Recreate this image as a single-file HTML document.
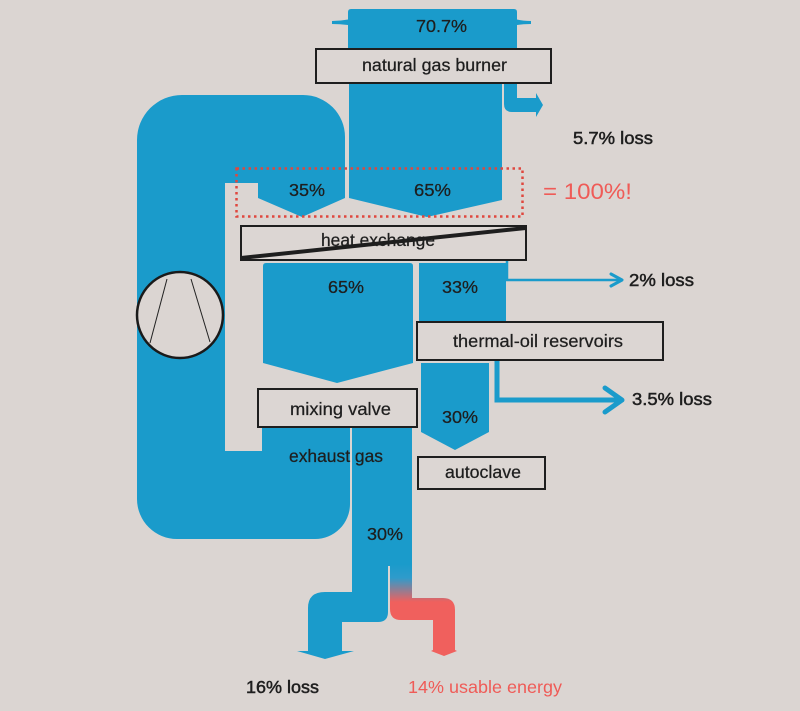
<!DOCTYPE html>
<html>
<head>
<meta charset="utf-8">
<style>
html,body{margin:0;padding:0;background:#dbd5d2;}
svg{display:block;}
text{font-family:"Liberation Sans",sans-serif;fill:#1e1e1e;}
</style>
</head>
<body>
<svg width="800" height="711" viewBox="0 0 800 711" xmlns="http://www.w3.org/2000/svg">
<defs>
<linearGradient id="rg" x1="0" y1="565" x2="0" y2="602" gradientUnits="userSpaceOnUse">
<stop offset="0" stop-color="#1b9bcb"/>
<stop offset="0.35" stop-color="#2f9bcb"/>
<stop offset="1" stop-color="#f0605d"/>
</linearGradient>
</defs>
<rect width="800" height="711" fill="#dbd5d2"/>

<g fill="#1a9bcb">
<!-- burner top block -->
<path d="M348,12 Q348,9 351,9 H514 Q517,9 517,12 V50 H348 Z"/>
<path d="M332,21 Q340,21 348,19.5 V25 Q340,24 332,24 Z"/>
<path d="M531,21 Q523,21 517,19.5 V25 Q523,24 531,24 Z"/>
<!-- block under burner (65%) -->
<path d="M349,80 H502 V200 L427,217 L349,198 Z"/>
<!-- 5.7% loss arrow -->
<path d="M504,80 H517 V98 H536 V93 L543,105 L536,117 V112 H512 Q504,112 504,104 Z"/>
<!-- C loop with 35% -->
<path d="M137,140 A45 45 0 0 1 182,95 H303 A42 42 0 0 1 345,137 V198 L302,217 L258,198 V183 H225 V451 H262 V427 H350 V504 A35 35 0 0 1 315,539 H177 A40 40 0 0 1 137,499 Z"/>
<!-- lower 65% -->
<path d="M263,266 Q263,263 266,263 H410 Q413,263 413,266 V363 L337,383 L263,363 Z"/>
<!-- 33% column -->
<rect x="419" y="263" width="87" height="60"/>
<!-- 30% chevron -->
<path d="M421,363 H489 V432 L455,450 L421,432 Z"/>
<!-- exhaust column -->
<rect x="352" y="425" width="60" height="141"/>
<!-- left branch -->
<path d="M352,565 H388 V612 Q388,622 378,622 H342 V651 H354 L325,659 L297,651 H308 V608 Q308,592 325,592 H352 Z"/>
</g>
<!-- right branch (usable) -->
<path d="M390,565 H412 V598 H443 Q455,598 455,610 V650 L457,651 L444,656 L431,651 L433,650 V620 H401 Q390,620 390,609 Z" fill="url(#rg)"/>

<!-- pump -->
<circle cx="180" cy="315" r="43" fill="#dbd5d2" stroke="#1a1a1a" stroke-width="2.5"/>
<line x1="167" y1="279" x2="150" y2="343" stroke="#222" stroke-width="1"/>
<line x1="191" y1="279" x2="210" y2="342" stroke="#222" stroke-width="1"/>

<!-- loss arrows -->
<path d="M507,258 V280 H621" fill="none" stroke="#1a9bcb" stroke-width="2.5"/>
<path d="M611,274 L622,280 L611,286" fill="none" stroke="#1a9bcb" stroke-width="3" stroke-linecap="round" stroke-linejoin="round"/>
<path d="M497,358 V400 H619" fill="none" stroke="#1a9bcb" stroke-width="5"/>
<path d="M605,388 L622,400 L605,412" fill="none" stroke="#1a9bcb" stroke-width="5" stroke-linecap="round" stroke-linejoin="round"/>

<!-- dotted box -->
<rect x="236.5" y="168.5" width="286" height="48" fill="none" stroke="#e0473e" stroke-width="2.5" stroke-dasharray="2.5 3.5"/>

<!-- boxes -->
<g fill="#dcd6d3" stroke="#1e1e1e" stroke-width="2">
<rect x="316" y="49" width="235" height="34"/>
<rect x="241" y="226" width="285" height="34"/>
<rect x="417" y="322" width="246" height="38"/>
<rect x="258" y="389" width="159" height="38"/>
<rect x="418" y="457" width="127" height="32"/>
</g>
<polygon points="241,260 241,256 526,226 526,230" fill="#1e1e1e"/>

<!-- labels -->
<g font-size="17.5" stroke="#1e1e1e" stroke-width="0.25">
<text x="416" y="32" textLength="51" lengthAdjust="spacingAndGlyphs">70.7%</text>
<text x="362" y="71" textLength="145" lengthAdjust="spacingAndGlyphs">natural gas burner</text>
<text x="289" y="196" textLength="36" lengthAdjust="spacingAndGlyphs">35%</text>
<text x="414" y="196" textLength="37" lengthAdjust="spacingAndGlyphs">65%</text>
<text x="321" y="246" textLength="114" lengthAdjust="spacingAndGlyphs">heat exchange</text>
<text x="328" y="293" textLength="36" lengthAdjust="spacingAndGlyphs">65%</text>
<text x="442" y="293" textLength="36" lengthAdjust="spacingAndGlyphs">33%</text>
<text x="453" y="347" textLength="170" lengthAdjust="spacingAndGlyphs">thermal-oil reservoirs</text>
<text x="290" y="415" textLength="101" lengthAdjust="spacingAndGlyphs">mixing valve</text>
<text x="442" y="423" textLength="36" lengthAdjust="spacingAndGlyphs">30%</text>
<text x="289" y="462" textLength="94" lengthAdjust="spacingAndGlyphs">exhaust gas</text>
<text x="445" y="478" textLength="76" lengthAdjust="spacingAndGlyphs">autoclave</text>
<text x="367" y="540" textLength="36" lengthAdjust="spacingAndGlyphs">30%</text>
</g>
<g font-size="17.5" stroke="#1e1e1e" stroke-width="0.5">
<text x="573" y="144" textLength="80" lengthAdjust="spacingAndGlyphs">5.7% loss</text>
<text x="629" y="286" textLength="65" lengthAdjust="spacingAndGlyphs">2% loss</text>
<text x="632" y="405" textLength="80" lengthAdjust="spacingAndGlyphs">3.5% loss</text>
<text x="246" y="693" textLength="73" lengthAdjust="spacingAndGlyphs">16% loss</text>
</g>
<text x="408" y="693" font-size="17.5" textLength="154" lengthAdjust="spacingAndGlyphs" style="fill:#ef5b57">14% usable energy</text>
<text x="543" y="199" font-size="22" textLength="89" lengthAdjust="spacingAndGlyphs" style="fill:#ef5b57">= 100%!</text>
</svg>
</body>
</html>
